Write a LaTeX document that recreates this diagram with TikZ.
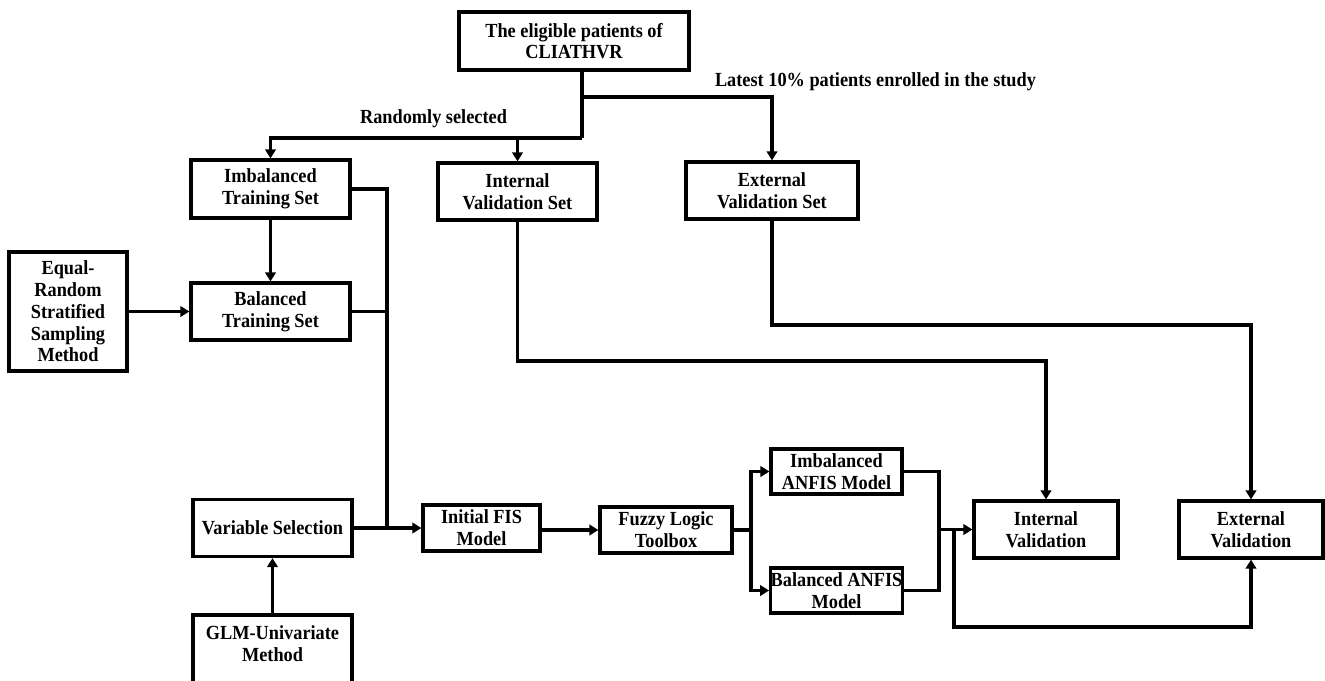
\documentclass[tikz,border=0pt]{standalone}
\usepackage{fontspec}
\setmainfont[FakeStretch=0.915]{Liberation Serif}
\usetikzlibrary{arrows.meta}
\begin{document}
\begin{tikzpicture}[x=1pt,y=-1pt,
  box/.style={draw=black,line width=3.2pt,fill=white,inner sep=0pt,align=center,
    font=\fontsize{20}{21.7}\selectfont\bfseries},
  lab/.style={inner sep=0pt,font=\fontsize{20}{21.7}\selectfont\bfseries},
  ln/.style={line width=3.2pt,line join=miter},
  arr/.style={ln,-{Triangle[length=9pt,width=10.5pt]}}]
\useasboundingbox (0,0) rectangle (1325,680);
\clip (0,0) rectangle (1325,680);
\fill[white] (0,0) rectangle (1325,680);
% nodes
\node[box,minimum width=230pt,minimum height=58pt] (top) at (574,41) {The eligible patients of\\CLIATHVR};
\node[box,minimum width=159pt,minimum height=58pt] (imb) at (270.5,189) {Imbalanced\\Training Set};
\node[box,minimum width=159pt,minimum height=57pt] (ivs) at (517.5,191.5) {Internal\\Validation Set};
\node[box,minimum width=172pt,minimum height=57pt] (evs) at (772,190.5) {External\\Validation Set};
\node[box,minimum width=159pt,minimum height=57pt] (bal) at (270.5,311.5) {Balanced\\Training Set};
\node[box,minimum width=118pt,minimum height=119pt] (eq) at (68,311.5) {Equal-\\Random\\Stratified\\Sampling\\Method};
\node[box,minimum width=159pt,minimum height=57pt] (vs) at (272.5,528) {Variable Selection};
\node[box,minimum width=159pt,minimum height=70pt] (glm) at (272.5,650) {};
\node[lab,align=center] (glmt) at (272.5,644) {GLM-Univariate\\Method};
\node[box,minimum width=117pt,minimum height=46pt] (ifis) at (481.5,528) {Initial FIS\\Model};
\node[box,minimum width=132pt,minimum height=46pt] (flt) at (666,530) {Fuzzy Logic\\Toolbox};
\node[box,minimum width=131pt,minimum height=45pt] (ianfis) at (836.5,471.5) {Imbalanced\\ANFIS Model};
\node[box,minimum width=131pt,minimum height=45pt] (banfis) at (836.5,590.5) {Balanced ANFIS\\Model};
\node[box,minimum width=144pt,minimum height=57pt] (iv) at (1046,529.5) {Internal\\Validation};
\node[box,minimum width=144pt,minimum height=57pt] (ev) at (1251,529.5) {External\\Validation};
% labels
\node[lab] (lrand) at (433.5,119) {Randomly selected};
\node[lab] (llate) at (875.5,82) {Latest 10\% patients enrolled in the study};
% junctions
\coordinate (jA) at (582,97);
\coordinate (jB) at (582,138);
\coordinate (jC) at (387,528);
\coordinate (jD) at (751,530);
\coordinate (jE) at (939,529.5);
\coordinate (jF) at (954,529.5);
\coordinate (jG) at (954,627);
\coordinate (jH) at (518,361);
\coordinate (jI) at (772,325);
% connectors
\draw[ln] (top.south -| jA) -- (jB);
\draw[arr] (jB) -| (imb.north);
\draw[arr] (jB -| ivs.north) -- (ivs.north);
\draw[arr] (jA) -| (evs.north);
\draw[arr] (imb.south) -- (imb.south |- bal.north);
\draw[arr] (eq.east) -- (eq.east -| bal.west);
\draw[ln] (imb.east) -| (jC);
\draw[ln] (bal.east) -- (bal.east -| jC);
\draw[arr] (vs.east) -- (ifis.west);
\draw[arr] (glm.north) -- (vs.south);
\draw[arr] (ifis.east |- flt.west) -- (flt.west);
\draw[ln] (flt.east) -- (jD);
\draw[arr] (jD) |- (ianfis.west);
\draw[arr] (jD) |- (banfis.west);
\draw[ln] (ianfis.east) -| (jE);
\draw[ln] (banfis.east) -| (jE);
\draw[arr] (jE) -- (iv.west);
\draw[arr] (jF) -- (jG) -| (ev.south);
\draw[arr] (ivs.south) -- (ivs.south |- jH) -| (iv.north);
\draw[arr] (evs.south) -- (jI) -| (ev.north);
\end{tikzpicture}
\end{document}
